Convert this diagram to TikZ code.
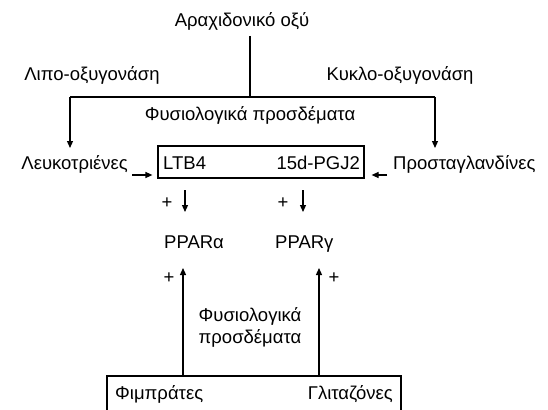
\documentclass[tikz,border=0pt]{standalone}
\usepackage{fontspec}
\setmainfont{Liberation Sans}
\usetikzlibrary{arrows.meta}
\begin{document}
\begin{tikzpicture}[x=1pt,y=-1pt,
  font=\fontsize{18.5}{22}\selectfont,
  lbl/.style={inner sep=0pt, anchor=base},
  ln/.style={line width=1.2pt},
  arr/.style={line width=1.2pt, -{Triangle[length=7pt,width=6pt]}}]
\useasboundingbox (0,0) rectangle (548,409);
% top
\node[lbl] (aa) at (242,27) {Αραχιδονικό οξύ};
\node[lbl] (lipo) at (92,81) {Λιπο-οξυγονάση};
\node[lbl] (kyklo) at (400,81) {Κυκλο-οξυγονάση};
\node[lbl] (fys1) at (250,121) {Φυσιολογικά προσδέματα};
\coordinate (aab) at (250,36);
\coordinate (j) at (250,97);
\coordinate (jl) at (70,97);
\coordinate (jr) at (435,97);
\coordinate (el) at (70,148);
\coordinate (er) at (435,148);
\draw[ln] (aab) -- (j);
\draw[ln] (jl) -- (jr);
\draw[arr] (jl) -- (el);
\draw[arr] (jr) -- (er);
% middle row
\node[draw, ln, minimum width=206pt, minimum height=32pt, inner sep=0pt] (box) at (261,162) {};
\node[lbl, anchor=base west] (ltb) at (163,169) {LTB4};
\node[lbl, anchor=base east] (pgj) at (360,169) {15d-PGJ2};
\node[lbl, anchor=base east] (leuk) at (128,169) {Λευκοτριένες};
\node[lbl, anchor=base west] (prost) at (393,169) {Προσταγλανδίνες};
\draw[arr, shorten >=5pt] ([xshift=4pt,yshift=-6pt]leuk.base east) -- ([yshift=-6pt]leuk.base east -| box.west);
\draw[arr, shorten >=7pt] ([xshift=-6pt,yshift=-6pt]prost.base west) -- ([yshift=-6pt]prost.base west -| box.east);
% plus and down arrows
\node[lbl] (p1) at (167,208) {+};
\node[lbl] (p2) at (283,208) {+};
\coordinate (d1s) at (185,190);
\coordinate (d1e) at (185,212);
\coordinate (d2s) at (303,190);
\coordinate (d2e) at (303,212);
\draw[arr] (d1s) -- (d1e);
\draw[arr] (d2s) -- (d2e);
\node[lbl, anchor=base west] (ppa) at (164,248) {PPARα};
\node[lbl, anchor=base west] (ppg) at (275,248) {PPARγ};
% bottom
\node[lbl] (p3) at (169,283) {+};
\node[lbl] (p4) at (334,283) {+};
\node[lbl] (fys2a) at (250,321) {Φυσιολογικά};
\node[lbl] (fys2b) at (250,343) {προσδέματα};
\coordinate (b2tl) at (107,376);
\coordinate (b2tr) at (401,376);
\draw[ln] (107,412) -- (b2tl) -- (b2tr) -- (401,412);
\coordinate (u1) at (183,268);
\coordinate (u2) at (319,268);
\draw[arr] (b2tl -| u1) -- (u1);
\draw[arr] (b2tl -| u2) -- (u2);
\node[lbl, anchor=base west] (fib) at (115,399) {Φιμπράτες};
\node[lbl, anchor=base east] (glit) at (393,399) {Γλιταζόνες};
\end{tikzpicture}
\end{document}
